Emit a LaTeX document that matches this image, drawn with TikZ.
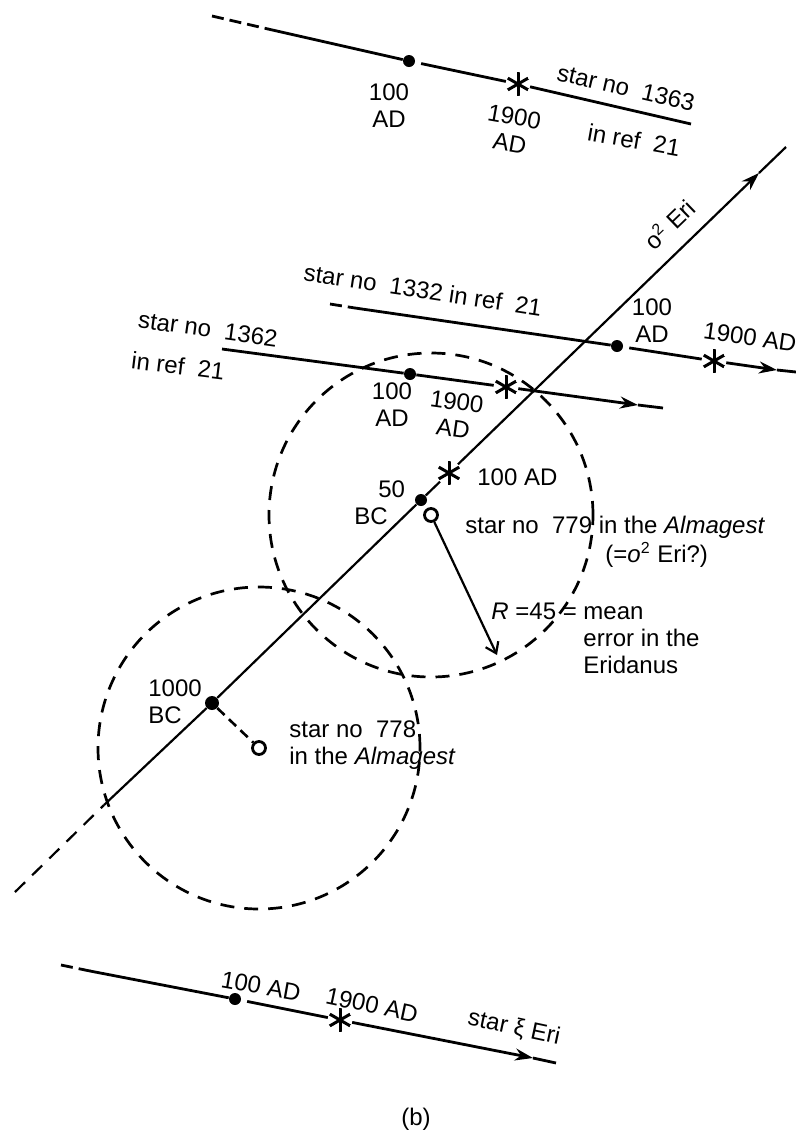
\documentclass[tikz,border=0pt]{standalone}
\usepackage{fontspec}
\setmainfont{Liberation Sans}
\usepackage{tikz}
\usetikzlibrary{arrows.meta}
\tikzstyle{dotmark} = [circle, fill=black, inner sep=0pt, minimum size=6pt]
\tikzstyle{ringmark} = [circle, draw=black, line width=1.4pt, inner sep=0pt, minimum size=6.5pt]
\tikzstyle{starmark} = [circle, inner sep=0pt, minimum size=12pt,
path picture={\foreach \a in {90,30,150}
\draw[line width=1.5pt] (path picture bounding box.center) ++(\a:6pt) -- ++(\a+180:12pt);}]
\tikzstyle{track} = [line width=1.4pt]
\tikzstyle{trackdash} = [line width=1.4pt, dash pattern=on 6pt off 3pt]
\tikzstyle{arrow} = [line width=1.4pt, -{Stealth[length=9pt, width=6pt]}]
\tikzstyle{axisline} = [line width=1.1pt]
\tikzstyle{axisdash} = [line width=1.1pt, dash pattern=on 7pt off 5pt]
\tikzstyle{zone} = [line width=1.35pt, dash pattern=on 7pt off 5pt]
\tikzstyle{radius arrow} = [line width=1.1pt, -{Straight Barb[length=5pt, width=7pt]}]
\tikzstyle{lbl} = [inner sep=1pt, align=center, font=\fontsize{12}{13.5}\selectfont]

\begin{document}
\begin{tikzpicture}[x=0.5pt, y=-0.5pt]
\useasboundingbox (0,0) rectangle (796,1131);

% star no 1363
\coordinate (a0) at (212,16);
\coordinate (a1) at (268,29);
\node[dotmark] (a100) at (409,61) {};
\node[starmark] (a1900) at (518,84) {};
\coordinate (a2) at (691,124);
\draw[trackdash] (a0) -- (a1);
\draw[track, shorten <=3pt] (a1) -- (a100) -- (a1900);
\draw[track] (a1900) -- (a2);
\node[lbl] (a100l) at (389,106) {100\\AD};
\node[lbl, rotate=-10] (a1900l) at (512,130) {1900\\AD};
\node[lbl, rotate=-13] (a1363) at (626,88) {star no\ \ 1363};
\node[lbl, rotate=-10] (aref) at (634,140) {in ref\ \ 21};

% o2 Eri
\coordinate (x0) at (15,892);
\coordinate (x1) at (104,805);
\node[dotmark, minimum size=7pt] (x1000) at (212,703) {};
\node[dotmark] (x50) at (421,500) {};
\node[starmark] (x100) at (449,473) {};
\coordinate (xtip) at (759,173);
\coordinate (x2) at (786,147);
\draw[axisdash] (x0) -- (x1);
\draw[axisline] (x1) -- (x1000) -- (x50) -- (x100);
\draw[axisline, -{Stealth[length=9pt, width=6pt]}] (x100) -- (xtip);
\draw[axisline] (xtip) -- (x2);
\node[lbl, rotate=44] (xlbl) at (669,224) {o\textsuperscript{2} Eri};
\node[lbl, anchor=west] (x100l) at (475,477) {100 AD};
\node[lbl, anchor=west, align=left] (x50l) at (352,503) {\hspace*{1em}50\\BC};
\node[lbl, anchor=west, align=left] (x1000l) at (146,702) {1000\\BC};

% star no 1332
\coordinate (b0) at (330,304);
\coordinate (b1) at (355,308);
\node[dotmark] (b100) at (617,346) {};
\node[starmark] (b1900) at (714,361) {};
\coordinate (btip) at (777,370);
\coordinate (b2) at (796,372);
\draw[trackdash] (b0) -- (b1);
\draw[track, shorten <=3pt] (b1) -- (b100) -- (b1900);
\draw[arrow] (b1900) -- (btip);
\draw[track] (btip) -- (b2);
\node[lbl, rotate=-8.5] (b1332) at (423,290) {star no\ \ 1332 in ref\ \ 21};
\node[lbl] (b100l) at (652,321) {100\\AD};
\node[lbl, rotate=-8] (b1900l) at (750,337) {1900 AD};

% star no 1362
\coordinate (c0) at (222,349);
\node[dotmark] (c100) at (410,374) {};
\node[starmark] (c1900) at (506,387) {};
\coordinate (ctip) at (638,405);
\coordinate (c2) at (663,408);
\draw[track] (c0) -- (c100) -- (c1900);
\draw[arrow] (c1900) -- (ctip);
\draw[track] (ctip) -- (c2);
\node[lbl, rotate=-8] (c1362) at (208,329) {star no\ \ 1362};
\node[lbl, rotate=-7] (cref) at (178,366) {in ref\ \ 21};
\node[lbl] (c100l) at (392,405) {100\\AD};
\node[lbl, rotate=-8] (c1900l) at (455,415) {1900\\AD};

% Almagest stars
\node[ringmark] (r779) at (431,515) {};
\node[ringmark] (r778) at (259,748) {};
\draw[zone] (r779) circle[radius=81pt];
\draw[zone] (r778) circle[radius=80.5pt];
\coordinate (rend) at (497,655);
\draw[radius arrow] (r779) -- (rend);
\draw[axisline, line width=1.3pt, dash pattern=on 5pt off 3pt] (x1000) -- (r778);
\node[lbl, anchor=west] (s779) at (463,527) {star no\ \ 779 in the \textit{Almagest}};
\node[lbl, anchor=west] (s779b) at (603,555) {(=\textit{o}\textsuperscript{2} Eri?)};
\node[lbl, anchor=west] (rlbl) at (489,641) {\begin{tabular}{@{}l@{\ }l@{}}\textit{R} =45 = & mean\\ & error in the\\ & Eridanus\end{tabular}};
\node[lbl, anchor=west, align=left] (s778) at (287,745) {star no\ \ 778\\in the \textit{Almagest}};

% star xi Eri
\coordinate (d0) at (61,965);
\coordinate (d1) at (90,971);
\node[dotmark] (d100) at (235,999) {};
\node[starmark] (d1900) at (340,1020) {};
\coordinate (dtip) at (533,1058);
\coordinate (d2) at (556,1063);
\draw[trackdash] (d0) -- (d1);
\draw[track, shorten <=3pt] (d1) -- (d100) -- (d1900);
\draw[arrow] (d1900) -- (dtip);
\draw[track] (dtip) -- (d2);
\node[lbl, rotate=-10] (d100l) at (261,986) {100 AD};
\node[lbl, rotate=-12] (d1900l) at (372,1005) {1900 AD};
\node[lbl, rotate=-12] (dxi) at (514,1028) {star ξ Eri};

\node[lbl] (cap) at (416,1119) {(b)};
\end{tikzpicture}
\end{document}
